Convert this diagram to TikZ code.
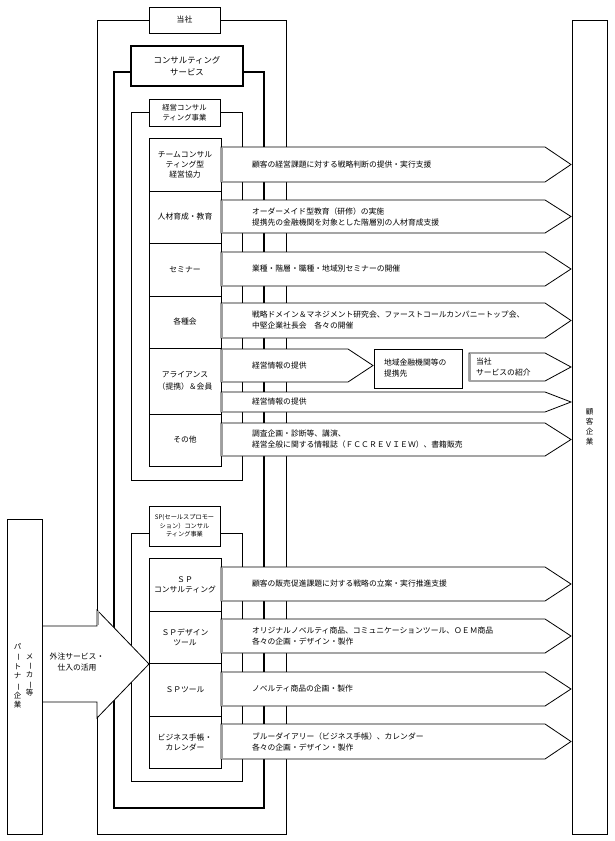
\documentclass[tikz,border=0pt]{standalone}
\usepackage{fontspec}
\setmainfont{Noto Sans CJK JP}
\usepackage{graphicx}
\newcommand\vbar{\rotatebox[origin=c]{-90}{ー}}
\newcommand\parrow[5]{%
  \draw[fill=white,line width=0.8pt] (#1,#2) -- (#4,#2) -- (#5,{(#2+#3)/2}) -- (#4,#3) -- (#1,#3) -- cycle;
  \draw[gray!75,line width=1.3pt] ({#1+1},{#2+0.5}) -- ({#1+1},{#3-0.5});}
\begin{document}
\begin{tikzpicture}[x=1pt,y=-1pt,
  every node/.style={font=\fontsize{7.8pt}{11pt}\selectfont, inner sep=0pt, outer sep=0pt},
  frame/.style={line width=0.8pt},
  boldframe/.style={line width=2pt},
  box/.style={draw, fill=white, line width=0.8pt, align=center},
  cell/.style={box, minimum width=72pt, font=\fontsize{7.8pt}{10pt}\selectfont},
  atext/.style={anchor=west, align=left},
]
\useasboundingbox (0,0) rectangle (614,841);

% frames
\draw[frame] (97,20) rectangle (286,834);
\draw[boldframe] (114,72) rectangle (264,808);
\draw[frame] (131,112) rectangle (242,480);
\draw[frame] (131,533) rectangle (242,781);

% label boxes
\node[box, minimum width=71pt, minimum height=26pt] (tosha) at (184.5,20) {当社};
\node[box, line width=2pt, minimum width=112pt, minimum height=40pt, font=\fontsize{8.4pt}{11.5pt}\selectfont] (consv) at (187,66) {コンサルティング\\サービス};
\node[box, minimum width=71pt, minimum height=27pt, font=\fontsize{7.4pt}{9.5pt}\selectfont] (keiei) at (184.5,112.5) {経営コンサル\\ティング事業};
\node[box, minimum width=71pt, minimum height=40pt, font=\fontsize{6.2pt}{8.6pt}\selectfont] (splbl) at (184.5,526) {SP(セールスプロモー\\ション）コンサル\\ティング事業};

% management consulting cells
\node[cell, minimum height=53pt] (c1) at (185,164.5) {チームコンサル\\ティング型\\経営協力};
\node[cell, minimum height=52pt] (c2) at (185,217) {人材育成・教育};
\node[cell, minimum height=53pt] (c3) at (185,269.5) {セミナー};
\node[cell, minimum height=52pt] (c4) at (185,322) {各種会};
\node[cell, minimum height=66pt, font=\fontsize{7.8pt}{12pt}\selectfont] (c5) at (185,381) {アライアンス\\（提携）＆会員};
\node[cell, minimum height=52pt] (c6) at (185,440) {その他};

% SP cells
\node[cell, minimum height=53pt] (s1) at (185,584.5) {ＳＰ\\コンサルティング};
\node[cell, minimum height=52pt] (s2) at (185,637) {ＳＰデザイン\\ツール};
\node[cell, minimum height=53pt] (s3) at (185,689.5) {ＳＰツール};
\node[cell, minimum height=52pt] (s4) at (185,742) {ビジネス手帳・\\カレンダー};

% arrows
\parrow{221}{147}{182}{545}{571}
\parrow{221}{200}{233}{545}{571}
\parrow{221}{252}{286}{545}{571}
\parrow{221}{303}{338}{545}{571}
\parrow{221}{349}{382}{348}{373}
\parrow{469}{353}{381}{545}{571}
\parrow{221}{392}{412}{545}{571}
\parrow{221}{423}{456}{545}{571}
\parrow{221}{567}{601}{545}{571}
\parrow{221}{619}{653}{545}{571}
\parrow{221}{672}{706}{545}{571}
\parrow{221}{724}{759}{545}{571}

\node[box, minimum width=88pt, minimum height=39pt] (bank) at (418,368.5) {};

% arrow texts
\node[atext] (a1) at (252,164.5) {顧客の経営課題に対する戦略判断の提供・実行支援};
\node[atext] (a2) at (252,216.5) {オーダーメイド型教育（研修）の実施\\提携先の金融機関を対象とした階層別の人材育成支援};
\node[atext] (a3) at (252,269) {業種・階層・職種・地域別セミナーの開催};
\node[atext] (a4) at (252,320.5) {戦略ドメイン＆マネジメント研究会、ファーストコールカンパニートップ会、\\中堅企業社長会　各々の開催};
\node[atext] (a5) at (252,365.5) {経営情報の提供};
\node[atext] (a5b) at (384,368.5) {地域金融機関等の\\提携先};
\node[atext] (a5c) at (476,367.5) {当社\\サービスの紹介};
\node[atext] (a5d) at (252,402) {経営情報の提供};
\node[atext] (a6) at (252,439.5) {調査企画・診断等、講演、\\経営全般に関する情報誌（ＦＣＣＲＥＶＩＥＷ）、書籍販売};
\node[atext] (b1) at (252,584) {顧客の販売促進課題に対する戦略の立案・実行推進支援};
\node[atext] (b2) at (252,636) {オリジナルノベルティ商品、コミュニケーションツール、ＯＥＭ商品\\各々の企画・デザイン・製作};
\node[atext] (b3) at (252,689) {ノベルティ商品の企画・製作};
\node[atext] (b4) at (252,741.5) {ブルーダイアリー（ビジネス手帳）、カレンダー\\各々の企画・デザイン・製作};

% outsourcing arrow
\fill[white] (42,626) -- (97,626) -- (97,610) -- (149,664) -- (97,718) -- (97,702) -- (42,702) -- cycle;
\draw[frame] (42,626) -- (97,626) -- (97,610) -- (149,664) -- (97,718) -- (97,702) -- (42,702);
\draw[gray!75,line width=1.3pt] (98,611) -- (98,625);
\node[align=center] (gaichu) at (77,662.5) {外注サービス・\\仕入の活用};

% customer and partner boxes
\node[box, minimum width=35pt, minimum height=814pt, font=\fontsize{7.5pt}{10pt}\selectfont] (kokyaku) at (589.5,427) {顧\\客\\企\\業};
\node[box, minimum width=35pt, minimum height=315pt] (partner) at (24.5,676.5) {};
\node[align=center, font=\fontsize{7.5pt}{9.7pt}\selectfont] (pcol1) at (17.5,676) {パ\\\vbar\\ト\\ナ\\\vbar\\企\\業};
\node[align=center, font=\fontsize{7.5pt}{9.2pt}\selectfont] (pcol2) at (29.5,675) {メ\\\vbar\\カ\\\vbar\\等};
\end{tikzpicture}
\end{document}
